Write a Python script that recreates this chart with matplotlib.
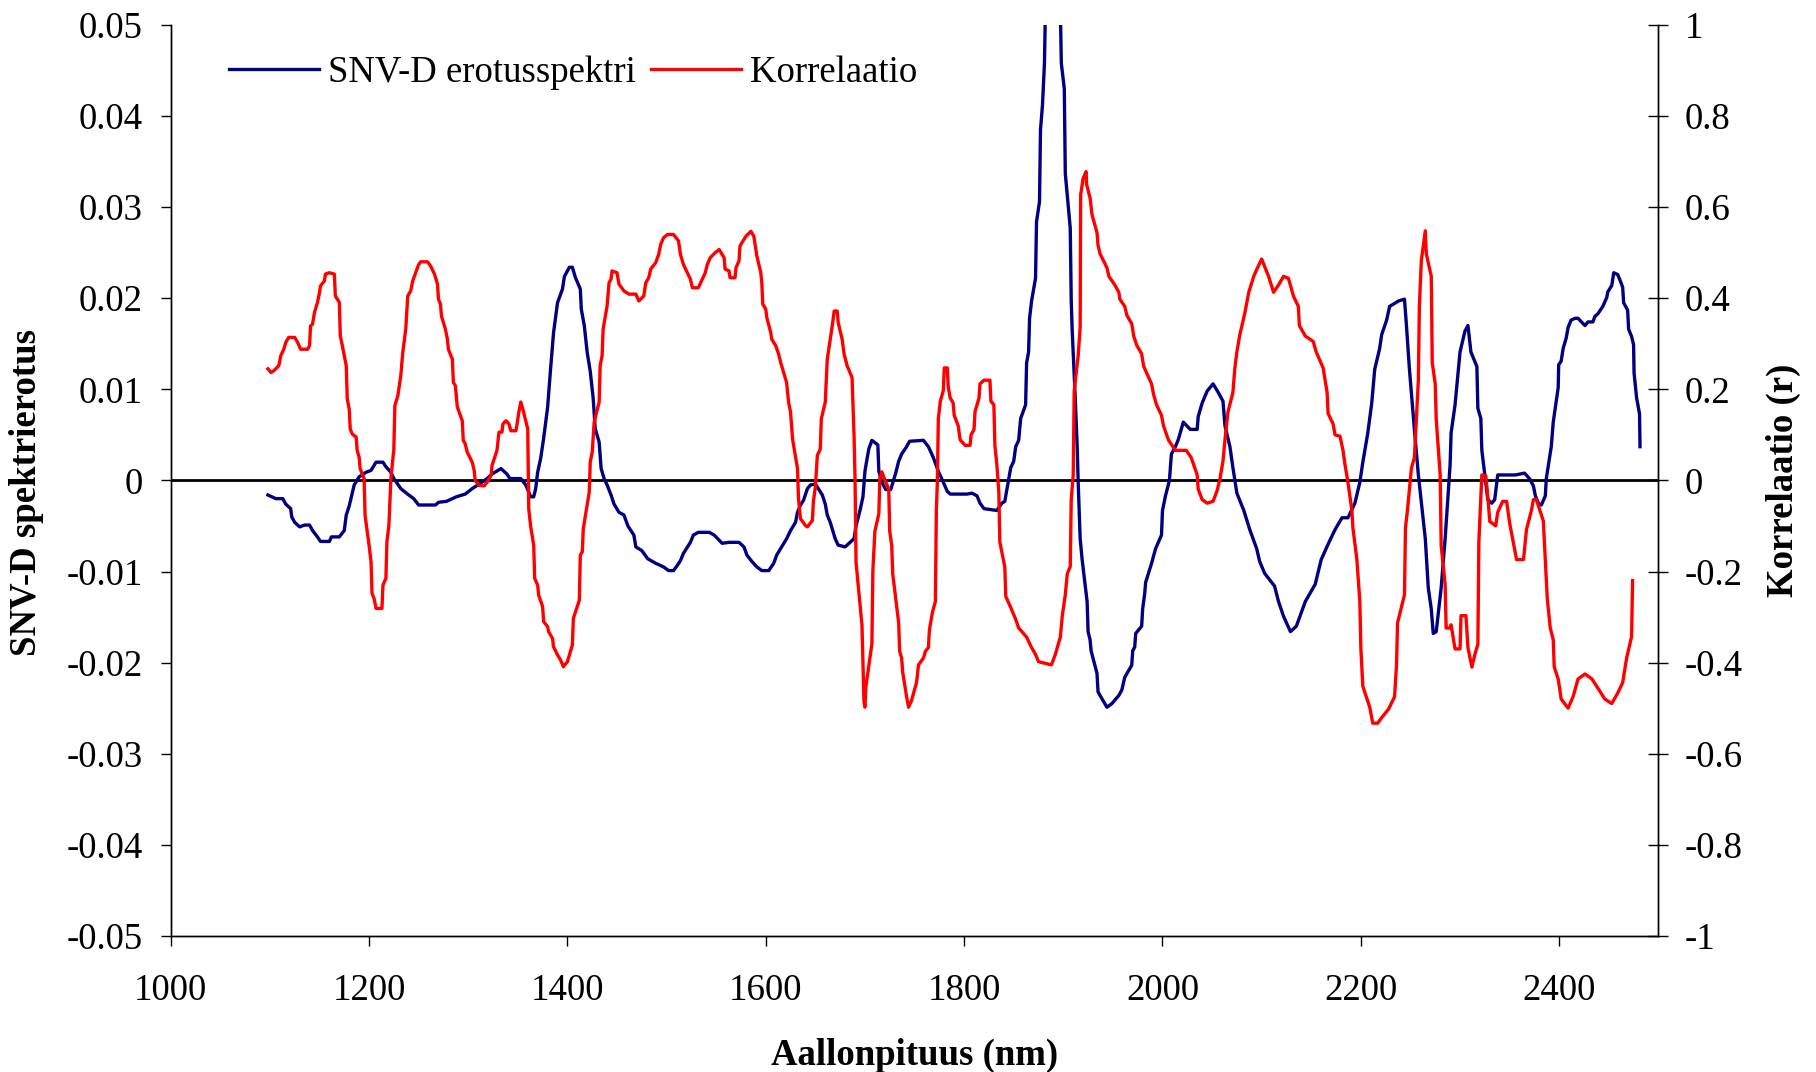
import matplotlib
matplotlib.use('Agg')
import matplotlib.pyplot as plt
from matplotlib.ticker import FixedLocator, FuncFormatter

plt.rcParams['font.family'] = ['Liberation Serif', 'DejaVu Serif']
plt.rcParams['axes.unicode_minus'] = False

# SNV-D erotusspektri (vasen akseli)
snv_nm = [1098, 1106, 1113, 1116, 1121, 1122, 1125, 1130, 1135, 1140, 1143, 1148, 1151, 1160, 1162,
          1170, 1175, 1177, 1180, 1185, 1190, 1197, 1202, 1207, 1214, 1217, 1222, 1225, 1232, 1240,
          1245, 1250, 1267, 1270, 1278, 1288, 1297, 1304, 1311, 1319, 1324, 1333, 1339, 1342, 1353,
          1358, 1363, 1366, 1368, 1370, 1373, 1376, 1380, 1383, 1386, 1390, 1395, 1397, 1402, 1405,
          1408, 1413, 1414, 1417, 1420, 1423, 1426, 1428, 1432, 1434, 1437, 1440, 1444, 1447, 1452,
          1457, 1461, 1467, 1469, 1475, 1481, 1489, 1497, 1502, 1507, 1511, 1514, 1517, 1524, 1527,
          1532, 1543, 1548, 1556, 1563, 1573, 1578, 1581, 1586, 1591, 1596, 1603, 1608, 1611, 1616,
          1621, 1625, 1630, 1632, 1635, 1638, 1642, 1645, 1650, 1653, 1657, 1660, 1662, 1665, 1668,
          1670, 1673, 1680, 1684, 1689, 1691, 1695, 1698, 1700, 1702, 1704, 1707, 1713, 1714, 1717,
          1721, 1726, 1731, 1734, 1737, 1742, 1745, 1759, 1764, 1769, 1774, 1779, 1783, 1786, 1803,
          1808, 1813, 1816, 1820, 1833, 1838, 1841, 1845, 1847, 1850, 1852, 1855, 1857, 1862, 1863,
          1865, 1866, 1868, 1872, 1873, 1876, 1877, 1879, 1881, 1882, 1889, 1897, 1898, 1901, 1902,
          1907, 1908, 1909, 1912, 1914, 1915, 1917, 1919, 1924, 1925, 1927, 1928, 1934, 1935, 1937,
          1944, 1949, 1956, 1959, 1962, 1969, 1970, 1972, 1973, 1979, 1980, 1982, 1983, 1989, 1993,
          1999, 2000, 2003, 2007, 2009, 2013, 2016, 2021, 2028, 2035, 2036, 2040, 2045, 2051, 2056,
          2061, 2063, 2068, 2071, 2075, 2082, 2088, 2095, 2098, 2103, 2113, 2117, 2122, 2129, 2135,
          2144, 2154, 2160, 2167, 2174, 2181, 2187, 2194, 2199, 2202, 2207, 2211, 2214, 2219, 2221,
          2226, 2229, 2238, 2244, 2246, 2249, 2254, 2258, 2265, 2268, 2271, 2273, 2276, 2281, 2285,
          2290, 2291, 2295, 2300, 2305, 2308, 2311, 2317, 2318, 2321, 2322, 2325, 2328, 2332, 2335,
          2338, 2356, 2365, 2370, 2374, 2376, 2379, 2382, 2386, 2387, 2392, 2394, 2399, 2399.5, 2402,
          2404, 2407, 2409, 2412, 2416, 2419, 2426, 2429, 2434, 2436, 2439, 2444, 2448, 2449, 2453,
          2455, 2459, 2462, 2464, 2465, 2469, 2470, 2473, 2475, 2475.5, 2478, 2481, 2481.5]
snv_val = [-0.0016, -0.0020, -0.0020, -0.0026, -0.0031, -0.0040, -0.0046, -0.0051, -0.0049, -0.0049,
           -0.0055, -0.0062, -0.0067, -0.0067, -0.0062, -0.0062, -0.0055, -0.0038, -0.0028, -0.0005,
           0.0004, 0.0009, 0.0011, 0.0020, 0.0020, 0.0015, 0.0009, 0.0002, -0.0009, -0.0016,
           -0.0020, -0.0027, -0.0027, -0.0024, -0.0023, -0.0018, -0.0015, -0.0009, -0.0004, 0.0002,
           0.0007, 0.0013, 0.0007, 0.0002, 0.0002, -0.0005, -0.0018, -0.0018, -0.0009, 0.0009,
           0.0024, 0.0046, 0.0080, 0.0122, 0.0162, 0.0195, 0.0210, 0.0224, 0.0234, 0.0234,
           0.0223, 0.0210, 0.0188, 0.0170, 0.0140, 0.0120, 0.0090, 0.0057, 0.0042, 0.0013,
           0.0002, -0.0005, -0.0016, -0.0026, -0.0035, -0.0038, -0.0050, -0.0060, -0.0073, -0.0077,
           -0.0086, -0.0091, -0.0095, -0.0099, -0.0099, -0.0093, -0.0088, -0.0080, -0.0068, -0.0060,
           -0.0057, -0.0057, -0.0060, -0.0069, -0.0068, -0.0068, -0.0073, -0.0082, -0.0089, -0.0095,
           -0.0099, -0.0099, -0.0091, -0.0082, -0.0073, -0.0064, -0.0055, -0.0046, -0.0035, -0.0027,
           -0.0022, -0.0009, -0.0005, -0.0004, -0.0009, -0.0016, -0.0026, -0.0038, -0.0046, -0.0057,
           -0.0064, -0.0071, -0.0073, -0.0069, -0.0064, -0.0050, -0.0033, -0.0018, 0.0010, 0.0023,
           0.0035, 0.0044, 0.0039, 0.0010, -0.0002, -0.0010, -0.0010, 0.0008, 0.0021, 0.0029,
           0.0037, 0.0043, 0.0044, 0.0037, 0.0025, 0.0010, -0.0002, -0.0012, -0.0015, -0.0015,
           -0.0014, -0.0017, -0.0025, -0.0031, -0.0033, -0.0025, -0.0023, 0.0002, 0.0014, 0.0021,
           0.0037, 0.0044, 0.0068, 0.0083, 0.0129, 0.0141, 0.0178, 0.0197, 0.0222, 0.0284,
           0.0306, 0.0385, 0.0412, 0.0458, 0.0520, 0.0600, 0.0520, 0.0458, 0.0430, 0.0337,
           0.0277, 0.0197, 0.0164, 0.0091, 0.0037, -0.0002, -0.0064, -0.0087, -0.0133, -0.0166,
           -0.0175, -0.0187, -0.0212, -0.0232, -0.0236, -0.0249, -0.0245, -0.0236, -0.0230, -0.0216,
           -0.0203, -0.0187, -0.0183, -0.0168, -0.0160, -0.0141, -0.0125, -0.0112, -0.0091, -0.0075,
           -0.0060, -0.0033, -0.0017, 0.0000, 0.0029, 0.0037, 0.0045, 0.0064, 0.0056, 0.0056,
           0.0070, 0.0085, 0.0098, 0.0106, 0.0097, 0.0087, 0.0060, 0.0037, 0.0014, -0.0014,
           -0.0033, -0.0054, -0.0075, -0.0089, -0.0102, -0.0116, -0.0133, -0.0149, -0.0166, -0.0160,
           -0.0133, -0.0114, -0.0087, -0.0070, -0.0054, -0.0041, -0.0041, -0.0025, -0.0002, 0.0020,
           0.0052, 0.0085, 0.0122, 0.0145, 0.0160, 0.0176, 0.0191, 0.0197, 0.0199, 0.0170,
           0.0122, 0.0056, 0.0006, -0.0064, -0.0118, -0.0141, -0.0168, -0.0166, -0.0118, -0.0064,
           0.0017, 0.0052, 0.0083, 0.0141, 0.0164, 0.0170, 0.0141, 0.0125, 0.0079, 0.0068,
           0.0033, 0.0006, -0.0021, -0.0025, -0.0021, 0.0006, 0.0006, 0.0008, 0.0002, -0.0006,
           -0.0017, -0.0025, -0.0027, -0.0017, 0.0002, 0.0037, 0.0064, 0.0102, 0.0127, 0.0131,
           0.0145, 0.0156, 0.0168, 0.0176, 0.0178, 0.0178, 0.0170, 0.0174, 0.0174, 0.0180,
           0.0183, 0.0191, 0.0201, 0.0207, 0.0214, 0.0228, 0.0226, 0.0218, 0.0212, 0.0195,
           0.0187, 0.0166, 0.0158, 0.0149, 0.0118, 0.0091, 0.0073, 0.0037]

# Korrelaatio (oikea akseli)
r_nm = [1098, 1101, 1104, 1109, 1111, 1114, 1116, 1119, 1125, 1128, 1131, 1138, 1140, 1141, 1143,
        1145, 1148, 1150, 1151, 1155, 1156, 1160, 1165, 1166, 1170, 1171, 1177, 1178, 1180, 1181,
        1183, 1187, 1188, 1190, 1191, 1195, 1196, 1200, 1202, 1203, 1205, 1207, 1213, 1214, 1217,
        1218, 1220, 1222, 1224, 1225, 1226, 1229, 1232, 1234, 1237, 1239, 1242, 1244, 1247, 1250,
        1252, 1259, 1262, 1266, 1269, 1270, 1272, 1273, 1277, 1279, 1280, 1284, 1285, 1287, 1289,
        1294, 1295, 1297, 1299, 1304, 1306, 1307, 1311, 1316, 1319, 1323, 1324, 1329, 1331, 1334,
        1335, 1338, 1341, 1343, 1348, 1349, 1351, 1353, 1355, 1360, 1361, 1363, 1366, 1367, 1370,
        1371, 1375, 1376, 1380, 1381, 1385, 1386, 1390, 1393, 1396, 1400, 1405, 1406, 1412, 1413,
        1415, 1416, 1422, 1423, 1425, 1427, 1432, 1433, 1435, 1436, 1440, 1442, 1444, 1445, 1450,
        1452, 1457, 1462, 1469, 1472, 1477, 1479, 1482, 1484, 1489, 1492, 1494, 1497, 1501, 1507,
        1512, 1514, 1517, 1521, 1524, 1526, 1532, 1536, 1539, 1541, 1544, 1549, 1553, 1558, 1559,
        1563, 1564, 1569, 1570, 1573, 1574, 1580, 1585, 1588, 1591, 1595, 1596, 1597, 1600, 1601,
        1605, 1606, 1610, 1613, 1615, 1621, 1623, 1625, 1627, 1632, 1633, 1635, 1640, 1642, 1647,
        1648, 1650, 1652, 1655, 1656, 1660, 1662, 1665, 1667, 1669, 1672, 1673, 1677, 1679, 1682,
        1687, 1689, 1690, 1691, 1697, 1699, 1700, 1701, 1707, 1708, 1710, 1714, 1715, 1717, 1721,
        1724, 1725, 1727, 1728, 1734, 1735, 1737, 1738, 1742, 1744, 1747, 1752, 1754, 1759, 1761,
        1764, 1765, 1768, 1771, 1772, 1773, 1774, 1776, 1779, 1780, 1783, 1784, 1786, 1789, 1790,
        1794, 1796, 1801, 1806, 1807, 1810, 1811, 1815, 1816, 1820, 1826, 1827, 1830, 1831, 1833,
        1835, 1836, 1841, 1842, 1846, 1852, 1855, 1863, 1868, 1872, 1875, 1888, 1892, 1897, 1899,
        1902, 1904, 1907, 1908, 1910, 1911, 1915, 1917, 1917.5, 1920, 1923, 1923.5, 1927, 1929, 1934,
        1935, 1937, 1944, 1946, 1952, 1956, 1957, 1962, 1964, 1969, 1971, 1974, 1979, 1981, 1984,
        1989, 1991, 1994, 1999, 2001, 2006, 2013, 2024, 2029, 2035, 2036, 2040, 2045, 2051, 2055,
        2058, 2061, 2063, 2066, 2071, 2073, 2075, 2078, 2083, 2087, 2092, 2095, 2100, 2107, 2112,
        2117, 2122, 2127, 2132, 2137, 2138, 2144, 2152, 2155, 2162, 2166, 2167, 2172, 2174, 2179,
        2182, 2184, 2187, 2191, 2192, 2196, 2199, 2200, 2202, 2209, 2212, 2217, 2221, 2228, 2234,
        2236, 2237, 2244, 2245, 2247, 2251, 2254, 2258, 2259, 2261, 2265, 2266, 2271, 2272, 2275,
        2276, 2280, 2281, 2285, 2286, 2290, 2291, 2295, 2300, 2301, 2306, 2308, 2312, 2315, 2318,
        2319, 2322, 2326, 2328, 2330, 2336, 2338, 2343, 2347, 2350, 2354, 2357, 2364, 2367, 2372,
        2374, 2377, 2384, 2386, 2388, 2391, 2394, 2395, 2399, 2402, 2409, 2414, 2419, 2426, 2433,
        2439, 2446, 2453, 2459, 2464, 2468, 2473, 2474]
r_val = [0.245, 0.237, 0.241, 0.252, 0.274, 0.288, 0.303, 0.314, 0.314, 0.303, 0.288, 0.288, 0.296,
         0.339, 0.343, 0.369, 0.391, 0.412, 0.427, 0.438, 0.453, 0.456, 0.453, 0.405, 0.391, 0.318,
         0.252, 0.179, 0.157, 0.113, 0.102, 0.095, 0.066, 0.051, 0.026, 0.004, -0.077, -0.142,
         -0.179, -0.248, -0.259, -0.281, -0.281, -0.230, -0.215, -0.135, -0.099, 0.004, 0.047,
         0.069, 0.164, 0.186, 0.230, 0.281, 0.332, 0.405, 0.416, 0.438, 0.456, 0.474, 0.480, 0.480,
         0.471, 0.453, 0.431, 0.398, 0.387, 0.361, 0.332, 0.310, 0.288, 0.266, 0.215, 0.208, 0.161,
         0.131, 0.088, 0.080, 0.062, 0.040, 0.022, 0.000, -0.011, -0.012, -0.004, 0.011, 0.033,
         0.066, 0.106, 0.106, 0.124, 0.131, 0.124, 0.109, 0.109, 0.120, 0.150, 0.172, 0.157, 0.113,
         -0.062, -0.102, -0.142, -0.215, -0.230, -0.252, -0.277, -0.310, -0.321, -0.332, -0.347,
         -0.365, -0.383, -0.394, -0.409, -0.398, -0.361, -0.303, -0.263, -0.164, -0.157, -0.106,
         -0.026, 0.040, 0.062, 0.128, 0.172, 0.252, 0.274, 0.332, 0.383, 0.434, 0.442, 0.460, 0.456,
         0.431, 0.416, 0.409, 0.409, 0.394, 0.405, 0.434, 0.445, 0.464, 0.478, 0.496, 0.518, 0.533,
         0.540, 0.540, 0.526, 0.496, 0.474, 0.456, 0.442, 0.423, 0.423, 0.442, 0.456, 0.474, 0.489,
         0.500, 0.507, 0.489, 0.464, 0.460, 0.445, 0.445, 0.467, 0.482, 0.515, 0.536, 0.547, 0.536,
         0.493, 0.456, 0.434, 0.387, 0.376, 0.358, 0.325, 0.310, 0.296, 0.277, 0.259, 0.215, 0.172,
         0.150, 0.091, 0.026, -0.040, -0.084, -0.099, -0.102, -0.088, -0.047, -0.015, 0.055, 0.069,
         0.135, 0.172, 0.266, 0.310, 0.339, 0.372, 0.372, 0.347, 0.310, 0.277, 0.252, 0.226, 0.099,
         0.004, -0.179, -0.318, -0.485, -0.498, -0.452, -0.359, -0.197, -0.112, -0.073, 0.004,
         0.019, -0.004, -0.019, -0.112, -0.143, -0.205, -0.313, -0.375, -0.390, -0.420, -0.475,
         -0.498, -0.483, -0.444, -0.405, -0.390, -0.375, -0.367, -0.328, -0.290, -0.266, -0.066,
         -0.004, 0.135, 0.174, 0.197, 0.247, 0.247, 0.205, 0.181, 0.170, 0.143, 0.120, 0.089, 0.077,
         0.077, 0.100, 0.112, 0.151, 0.181, 0.212, 0.220, 0.220, 0.174, 0.166, 0.077, 0.035, -0.027,
         -0.135, -0.190, -0.255, -0.274, -0.305, -0.324, -0.344, -0.367, -0.382, -0.398, -0.405,
         -0.382, -0.344, -0.297, -0.251, -0.205, -0.189, -0.042, 0.012, 0.197, 0.274, 0.336, 0.627,
         0.663, 0.678, 0.650, 0.620, 0.583, 0.544, 0.517, 0.498, 0.467, 0.448, 0.429, 0.413, 0.398,
         0.382, 0.363, 0.344, 0.317, 0.297, 0.278, 0.251, 0.236, 0.212, 0.189, 0.166, 0.143, 0.120,
         0.089, 0.066, 0.066, 0.050, 0.012, -0.019, -0.042, -0.050, -0.046, -0.023, 0.004, 0.042,
         0.089, 0.150, 0.193, 0.247, 0.282, 0.320, 0.367, 0.413, 0.448, 0.463, 0.486, 0.448, 0.413,
         0.429, 0.448, 0.444, 0.405, 0.382, 0.340, 0.317, 0.305, 0.282, 0.247, 0.193, 0.147, 0.124,
         0.100, 0.097, 0.066, 0.035, -0.004, -0.066, -0.104, -0.174, -0.266, -0.367, -0.452, -0.498,
         -0.533, -0.533, -0.521, -0.502, -0.475, -0.405, -0.313, -0.251, -0.104, -0.066, 0.027,
         0.050, 0.220, 0.382, 0.483, 0.548, 0.498, 0.448, 0.259, 0.212, 0.135, 0.012, -0.143, -0.228,
         -0.324, -0.324, -0.317, -0.370, -0.370, -0.297, -0.297, -0.367, -0.410, -0.382, -0.360,
         -0.135, 0.012, 0.010, -0.035, -0.090, -0.100, -0.070, -0.046, -0.046, -0.093, -0.140,
         -0.174, -0.174, -0.108, -0.066, -0.042, -0.042, -0.089, -0.174, -0.260, -0.324, -0.350,
         -0.410, -0.436, -0.480, -0.500, -0.475, -0.436, -0.425, -0.436, -0.456, -0.480, -0.490,
         -0.467, -0.444, -0.390, -0.343, -0.220]

x_ticks = [1000, 1200, 1400, 1600, 1800, 2000, 2200, 2400]
left_ticks = [-0.05, -0.04, -0.03, -0.02, -0.01, 0, 0.01, 0.02, 0.03, 0.04, 0.05]
right_ticks = [-1, -0.8, -0.6, -0.4, -0.2, 0, 0.2, 0.4, 0.6, 0.8, 1]

fs = 26.5
fig = plt.figure(figsize=(18.16, 10.72), dpi=100)
ax = fig.add_axes([0.094, 0.127, 0.8192, 0.8497])
ax2 = ax.twinx()

l1, = ax.plot(snv_nm, snv_val, color='#000080', lw=2.4, label='SNV-D erotusspektri')
ax.axhline(0, color='black', lw=2.0, zorder=1)
l2, = ax2.plot(r_nm, r_val, color='#ff0000', lw=2.4, label='Korrelaatio')

ax.set_xlim(1000, 2500)
ax.set_ylim(-0.05, 0.05)
ax2.set_ylim(-1, 1)

fmt = FuncFormatter(lambda v, p: '%g' % round(v, 3))
ax.xaxis.set_major_locator(FixedLocator(x_ticks))
ax.yaxis.set_major_locator(FixedLocator(left_ticks))
ax.yaxis.set_major_formatter(fmt)
ax2.yaxis.set_major_locator(FixedLocator(right_ticks))
ax2.yaxis.set_major_formatter(fmt)

ax.tick_params(axis='x', direction='out', length=7, width=1, labelsize=fs, pad=20)
ax.tick_params(axis='y', direction='out', length=7, width=1, labelsize=fs, pad=13)
ax2.tick_params(axis='y', direction='inout', length=14, width=1, labelsize=fs, pad=12)

for a in (ax, ax2):
    a.spines['top'].set_visible(False)
    for s in ('left', 'right', 'bottom'):
        a.spines[s].set_linewidth(1.0)
        a.spines[s].set_color('black')

ax.set_xlabel('Aallonpituus (nm)', fontsize=fs, fontweight='bold')
ax.set_ylabel('SNV-D spektrierotus', fontsize=fs, fontweight='bold')
ax2.set_ylabel('Korrelaatio (r)', fontsize=fs, fontweight='bold')
ax.xaxis.set_label_coords(0.5, -0.112)
ax.yaxis.set_label_coords(-0.085, 0.487)
ax2.yaxis.set_label_coords(1.072, 0.5)

ax2.legend(handles=[l1, l2], loc='center left', bbox_to_anchor=(0.039, 0.948), ncol=2,
           frameon=False, fontsize=fs, handlelength=2.45, handletextpad=0.25,
           columnspacing=0.41, borderaxespad=0, borderpad=0)

fig.savefig('out.png', dpi=100)
